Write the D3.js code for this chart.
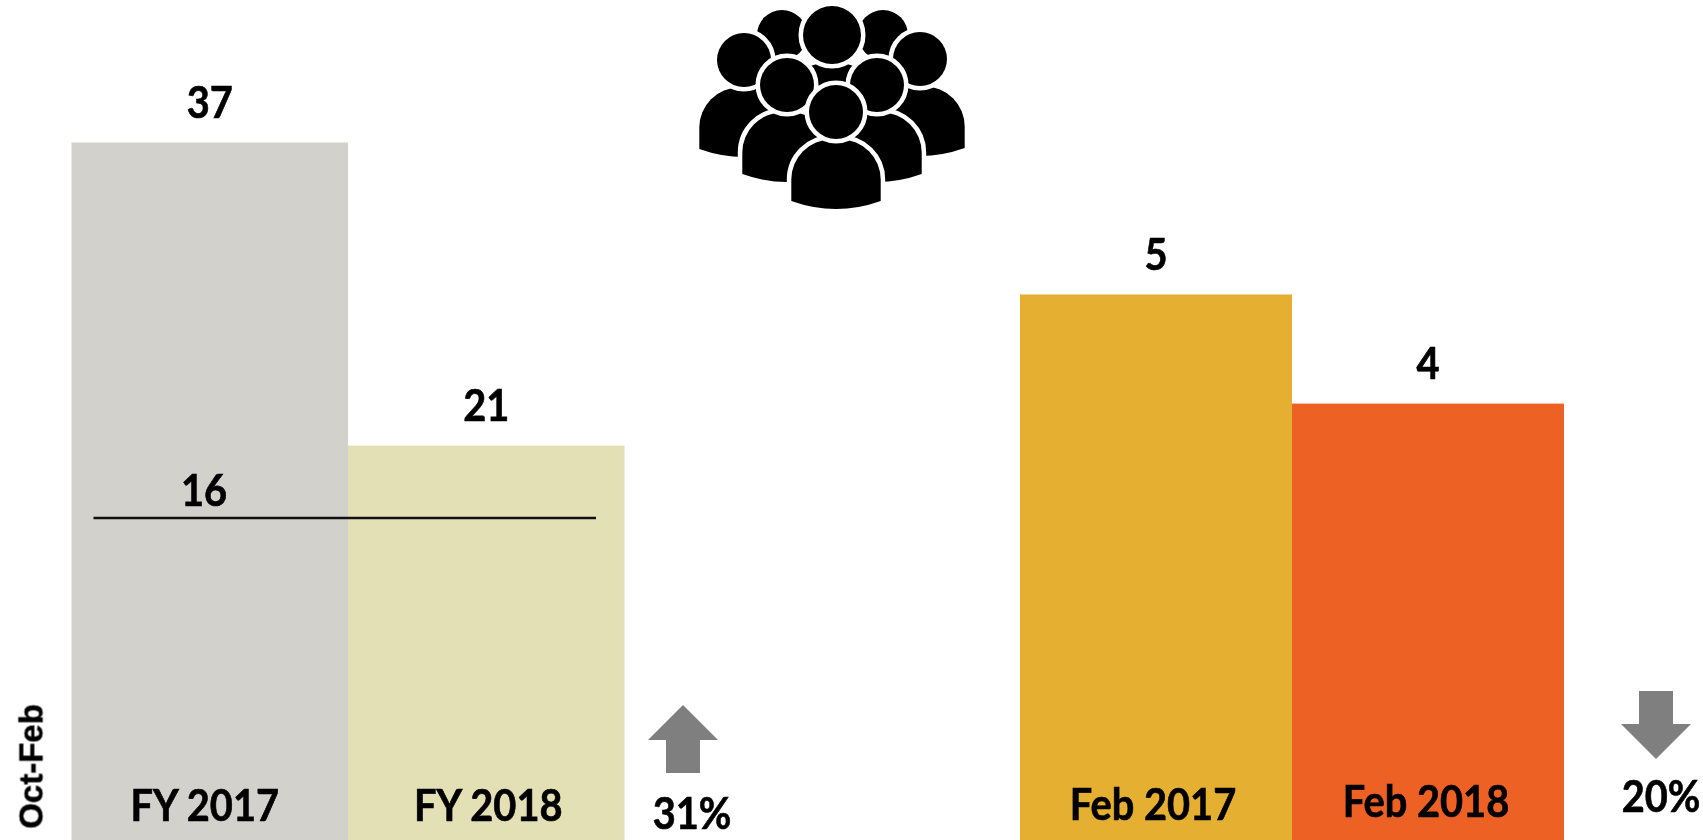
<!DOCTYPE html>
<html><head><meta charset="utf-8">
<script src="https://cdn.jsdelivr.net/npm/d3@7/dist/d3.min.js"></script>
<style>html,body{margin:0;padding:0;background:#fff;overflow:hidden}svg{display:block}
text{font-family:Lato,"Open Sans",sans-serif;font-weight:700;fill:#050505;stroke:#050505;stroke-width:.6px;filter:url(#soft)}</style></head>
<body><svg id="c" width="1703" height="840"><defs><filter id="soft" x="-10%" y="-10%" width="120%" height="120%"><feGaussianBlur stdDeviation="0.55"/></filter></defs></svg>
<script>
// Data
const leftCategories = ["FY 2017", "FY 2018"];
const leftValues = [37, 21];
const rightCategories = ["Feb 2017", "Feb 2018"];
const rightValues = [5, 4];
const differenceLabel = "16";
const differenceLevel = 17.18; // drawn height of the line
const changeLabels = ["31%", "20%"];
const sideLabel = "Oct-Feb";
const leftColors = ["#D2D1CC", "#E3E0B5"];
const rightColors = ["#E5B032", "#ED6125"];

const svg = d3.select("#c");
const H = 840;
const xL = d3.scaleBand().domain(leftCategories).range([71.5, 624.5]);
const xR = d3.scaleBand().domain(rightCategories).range([1020, 1564]);
const yL = d3.scaleLinear().domain([0, 37]).range([843.4, 142.5]);
const yR = d3.scaleLinear().domain([0, 5]).range([H, 294.5]);
const FS = 41;

function label(parent, x, y, txt) {
  return parent.append("text")
    .attr("transform", `translate(${x},${y}) scale(0.97,1.09)`)
    .attr("text-anchor", "middle").attr("font-size", FS).text(txt);
}

function panel(cats, vals, cols, x, y, catDx, catY) {
  const g = svg.append("g");
  g.selectAll("rect").data(cats).join("rect")
    .attr("x", d => x(d)).attr("width", x.bandwidth())
    .attr("y", (d, i) => y(vals[i])).attr("height", (d, i) => y(0) - y(vals[i]))
    .attr("fill", (d, i) => cols[i]);
  cats.forEach((d, i) => {
    const cx = x(d) + x.bandwidth() / 2;
    label(g, cx, y(vals[i]) - 25, vals[i]);
    label(g, cx + catDx[i], catY[i], d);
  });
}
panel(leftCategories, leftValues, leftColors, xL, yL, [-5, 2], [821, 821]);
panel(rightCategories, rightValues, rightColors, xR, yR, [-3, -2], [820, 817]);

// difference line
svg.append("line").attr("x1", 93.5).attr("x2", 596)
  .attr("y1", yL(differenceLevel)).attr("y2", yL(differenceLevel))
  .attr("stroke", "#111").attr("stroke-width", 2.4);
label(svg, 204, yL(differenceLevel) - 12, differenceLabel);

// arrows
const arrow = d3.line();
function drawArrow(cx, tipY, dir) {
  const p = [[0,0],[35,35],[17,35],[17,68],[-17,68],[-17,35],[-35,35]];
  svg.append("path").attr("d", arrow(p.map(d => [cx + d[0], tipY + dir * d[1]])) + "Z").attr("fill", "#7F7F7F");
}
drawArrow(683, 705, 1);
drawArrow(1656, 759, -1);
label(svg, 692, 829, changeLabels[0]);
label(svg, 1661, 812, changeLabels[1]);

// side label
svg.append("text").attr("transform", "translate(42.5,766.5) rotate(-90)")
  .attr("text-anchor", "middle").style("font-family", "'Liberation Sans',Arial,sans-serif")
  .style("stroke-width", "0.5px").attr("font-size", 33).text(sideLabel);

// people icon
const icon = svg.append("g");
function person(cx, cy, r, ring, body) {
  const g = icon.append("g");
  if (body) {
    const w = 44.7, t = cy + 27.5, s = cy + 89, b = cy + 97, c = 40;
    const d = `M${cx-w},${s}V${t+c}A${c},${c} 0 0 1 ${cx-w+c},${t}H${cx+w-c}A${c},${c} 0 0 1 ${cx+w},${t+c}V${s}Q${cx},${b+8} ${cx-w},${s}Z`;
    g.append("path").attr("d", d).attr("fill", "#000").attr("stroke", "#fff").attr("stroke-width", ring * 2).attr("paint-order", "stroke");
  }
  g.append("circle").attr("cx", cx).attr("cy", cy).attr("r", r).attr("fill", "#000")
    .attr("stroke", "#fff").attr("stroke-width", ring * 2).attr("paint-order", "stroke");
}
const people = [
  [782,35,25,false],[883,35,25,false],[832,35,29,true],
  [744,60,27,true],[920,59,27,true],
  [787,85,27,true],[877,85,27,true],
  [836,112,27,true]
];
people.forEach(p => person(p[0], p[1], p[2], 4.5, p[3]));
</script></body></html>
